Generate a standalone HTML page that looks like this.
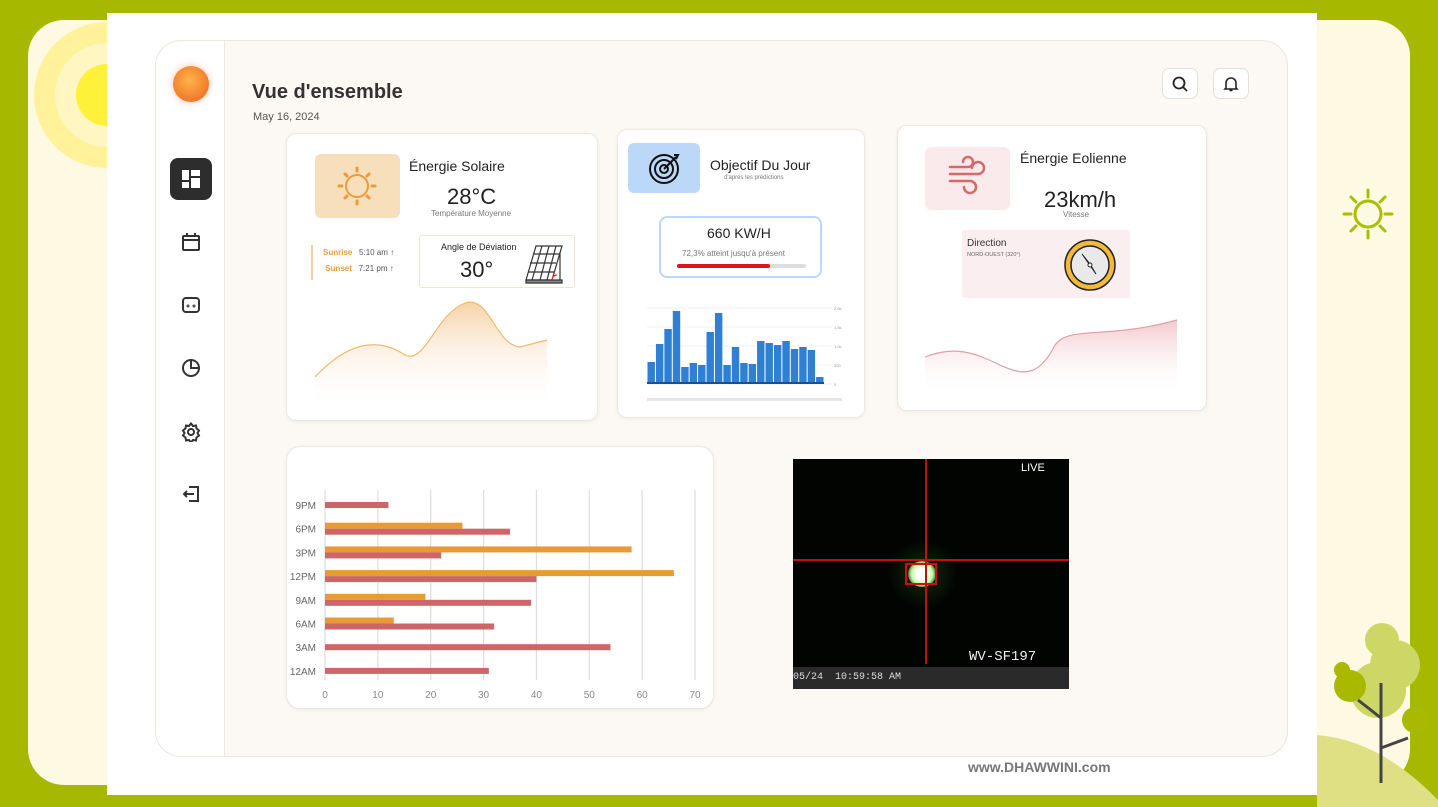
<!DOCTYPE html>
<html><head><meta charset="utf-8"><style>
*{box-sizing:border-box;margin:0;padding:0}
body{width:1438px;height:807px;background:#a6b800;position:relative;overflow:hidden;font-family:"Liberation Sans","DejaVu Sans",sans-serif;color:#222}
.abs{position:absolute}
.card{position:absolute;background:#fff;border:1px solid #eee8e0;border-radius:10px;box-shadow:0 1px 4px rgba(0,0,0,.06)}
.side-ic{position:absolute;left:170px;width:42px;height:42px;display:flex;align-items:center;justify-content:center}
</style></head><body>
<div class="abs" style="left:28px;top:20px;width:1382px;height:765px;background:#fef9e2;border-radius:36px"></div>
<svg class="abs" style="left:0;top:0" width="1438" height="807">
 <circle cx="107" cy="95" r="73" fill="#fff29a"/><circle cx="107" cy="95" r="52" fill="#fff6c2"/><circle cx="107" cy="95" r="31" fill="#fff03a"/>
 <path d="M1317 735 Q1380 740 1438 800 L1438 807 L1317 807Z" fill="#dfe083"/>
 <circle cx="1382" cy="640" r="17" fill="#cdd766"/><circle cx="1395" cy="665" r="25" fill="#cdd766"/><circle cx="1378" cy="690" r="28" fill="#cdd766"/>
 <circle cx="1350" cy="686" r="16" fill="#a9b900"/><circle cx="1342" cy="670" r="8" fill="#a9b900"/><circle cx="1415" cy="720" r="13" fill="#a9b900"/>
 <path d="M1381 683 V783 M1381 718 L1358 700 M1381 748 L1408 738" stroke="#444" stroke-width="3" fill="none"/>
 <g stroke="#a6c000" stroke-width="3" stroke-linecap="round" fill="none"><circle cx="1368" cy="214" r="13"/>
 <path d="M1368 190v7M1368 231v7M1344 214h7M1385 214h7M1351 197l5 5M1380 226l5 5M1385 197l-5 5M1356 226l-5 5"/></g>
</svg>
<div class="abs" style="left:107px;top:13px;width:1210px;height:782px;background:#fff"></div>
<div class="abs" style="left:155px;top:40px;width:1133px;height:717px;background:#fcf9f4;border:1px solid #ebe6de;border-radius:26px;overflow:hidden">
 <div class="abs" style="left:0;top:0;width:69px;height:717px;background:#fff;border-right:1px solid #ece8e2"></div>
</div>
<div class="abs" style="left:173px;top:66px;width:36px;height:36px;border-radius:50%;background:radial-gradient(circle at 45% 40%,#ffb24a,#f07a2a 70%,#d94a1c);box-shadow:0 0 8px rgba(240,100,60,.4)"></div>
<div class="side-ic" style="top:158px;background:#2d2d2d;border-radius:8px"><svg width="18" height="18"><rect x="0" y="0" width="7" height="10" fill="#fff"/><rect x="9" y="0" width="9" height="6" fill="#fff"/><rect x="9" y="8" width="9" height="10" fill="#fff"/><rect x="0" y="12" width="7" height="6" fill="#fff"/></svg></div>
<div class="side-ic" style="top:221px"><svg width="20" height="20" fill="none" stroke="#333" stroke-width="2"><rect x="2" y="4" width="16" height="14" rx="1"/><path d="M2 8h16M6 1v4M14 1v4"/></svg></div>
<div class="side-ic" style="top:284px"><svg width="20" height="20" fill="none" stroke="#333" stroke-width="2"><rect x="2" y="3" width="16" height="14" rx="3"/><circle cx="7" cy="11" r=".5"/><circle cx="13" cy="11" r=".5"/></svg></div>
<div class="side-ic" style="top:347px"><svg width="20" height="20" fill="none" stroke="#333" stroke-width="2"><circle cx="10" cy="10" r="8"/><path d="M10 2v8h8"/></svg></div>
<div class="side-ic" style="top:411px"><svg width="20" height="20" fill="none" stroke="#333" stroke-width="2"><circle cx="10" cy="10" r="3"/><path d="M10 1.5l2 2.5 3-.5.5 3 2.5 2-1.5 2.5 1.5 2.5-2.5 2-.5 3-3-.5-2 2.5-2-2.5-3 .5-.5-3-2.5-2 1.5-2.5-1.5-2.5 2.5-2 .5-3 3 .5z"/></svg></div>
<div class="side-ic" style="top:473px"><svg width="20" height="20" fill="none" stroke="#333" stroke-width="2"><path d="M8 3h9v14H8M3 10h10M6 7l-3 3 3 3"/></svg></div>

<div class="abs" style="left:252px;top:81px;font-size:20px;font-weight:bold;color:#333">Vue d'ensemble</div>
<div class="abs" style="left:253px;top:111px;font-size:11px;color:#555">May 16, 2024</div>
<div class="abs" style="left:1162px;top:68px;width:36px;height:31px;background:#fff;border:1px solid #e5e0d8;border-radius:7px;display:flex;align-items:center;justify-content:center"><svg width="16" height="16" fill="none" stroke="#222" stroke-width="1.8"><circle cx="7" cy="7" r="5.5"/><path d="M11 11l4 4"/></svg></div>
<div class="abs" style="left:1213px;top:68px;width:36px;height:31px;background:#fff;border:1px solid #e5e0d8;border-radius:7px;display:flex;align-items:center;justify-content:center"><svg width="16" height="16" fill="none" stroke="#222" stroke-width="1.6"><path d="M3 12V7a5 5 0 0110 0v5l1 1H2z M6.5 14.5h3"/></svg></div>

<div class="card" style="left:286px;top:133px;width:312px;height:288px"></div>
<div class="abs" style="left:315px;top:154px;width:85px;height:64px;background:#f8dfbc;border-radius:6px"><svg width="85" height="64" fill="none" stroke="#eb9b3a" stroke-width="2"><circle cx="42" cy="32" r="11"/><g stroke-linecap="round" stroke-width="3"><path d="M42 14v3M42 47v3M24 32h3M57 32h3M30 20l2 2M52 42l2 2M54 20l-2 2M32 42l-2 2"/></g></svg></div>
<div class="abs" style="left:409px;top:158px;font-size:14px">Énergie Solaire</div>
<div class="abs" style="left:447px;top:184px;font-size:22px">28°C</div>
<div class="abs" style="left:431px;top:209px;font-size:8px;color:#777">Température Moyenne</div>
<div class="abs" style="left:311px;top:245px;height:35px;border-left:2px solid #f4cf9c;padding-left:10px;font-size:8px;line-height:16px">
 <div><b style="color:#eb9b3a">Sunrise</b>&nbsp;&nbsp; <span style="color:#555">5:10 am ↑</span></div>
 <div>&nbsp;<b style="color:#eb9b3a">Sunset</b>&nbsp;&nbsp; <span style="color:#555">7:21 pm ↑</span></div></div>
<div class="abs" style="left:419px;top:235px;width:156px;height:53px;border:1px solid #f4e4cc;border-radius:3px">
 <div style="position:absolute;left:21px;top:6px;font-size:9px">Angle de Déviation</div>
 <div style="position:absolute;left:40px;top:21px;font-size:22px">30°</div>
 <svg style="position:absolute;left:102px;top:8px" width="44" height="40" fill="none" stroke="#333" stroke-width="1.2"><path d="M14 2h26l-10 34H4z M11 10h26M8 19h26M6 28h26M20 2L10 36M27 2l-9 34M34 2l-9 34"/><path d="M4 36h36v3H4z" fill="#888"/><path d="M38 8v28" /><path d="M30 36a5 5 0 015-5" stroke="#d33"/></svg></div>
<svg class="abs" style="left:315px;top:295px" width="235" height="115">
 <defs><linearGradient id="g1" x1="0" y1="0" x2="0" y2="1"><stop offset="0" stop-color="#f6d3a8"/><stop offset="1" stop-color="#fff" stop-opacity="0"/></linearGradient>
 <linearGradient id="g2" x1="0" y1="0" x2="0" y2="1"><stop offset="0" stop-color="#f2c8cd"/><stop offset="1" stop-color="#fff" stop-opacity="0"/></linearGradient></defs>
 <path d="M0 82 C30 50 60 40 90 60 C110 70 120 20 150 8 C175 0 180 50 205 52 L232 45 L232 115 L0 115Z" fill="url(#g1)"/>
 <path d="M0 82 C30 50 60 40 90 60 C110 70 120 20 150 8 C175 0 180 50 205 52 L232 45" fill="none" stroke="#f2b96e" stroke-width="1.2"/>
</svg>

<div class="card" style="left:617px;top:129px;width:248px;height:289px"></div>
<div class="abs" style="left:628px;top:143px;width:72px;height:50px;background:#bcd8f8;border-radius:6px"><svg width="72" height="50" fill="none" stroke="#111" stroke-width="2"><circle cx="36" cy="26" r="14"/><circle cx="36" cy="26" r="9"/><circle cx="36" cy="26" r="4"/><path d="M36 26l12-12M46 12l4 0-2 4"/></svg></div>
<div class="abs" style="left:710px;top:157px;font-size:14px">Objectif Du Jour</div>
<div class="abs" style="left:724px;top:175px;font-size:6px;color:#777">d'aprés les prédictions</div>
<div class="abs" style="left:659px;top:216px;width:163px;height:62px;border:2px solid #bcd8f8;border-radius:8px">
 <div style="position:absolute;left:46px;top:7px;font-size:14px">660 KW/H</div>
 <div style="position:absolute;left:21px;top:31px;font-size:8px;color:#777">72,3% atteint jusqu'à présent</div>
 <div style="position:absolute;left:16px;top:46px;width:129px;height:4px;background:#ddd;border-radius:2px"><div style="width:72.3%;height:4px;background:#e0121b;border-radius:2px"></div></div></div>
<svg class="abs" id="vbar" style="left:640px;top:290px" width="210" height="115"></svg>

<div class="card" style="left:897px;top:125px;width:310px;height:286px"></div>
<div class="abs" style="left:925px;top:147px;width:85px;height:63px;background:#fbeaec;border-radius:6px"><svg width="85" height="63" fill="none" stroke="#d46a6a" stroke-width="2.5" stroke-linecap="round"><path d="M25 20h18a5 5 0 10-5-5M25 27h28a6 6 0 10-6-6M25 34h20a6 6 0 11-6 6"/></svg></div>
<div class="abs" style="left:1020px;top:150px;font-size:14px">Énergie Eolienne</div>
<div class="abs" style="left:1044px;top:187px;font-size:22px">23km/h</div>
<div class="abs" style="left:1063px;top:210px;font-size:8px;color:#777">Vitesse</div>
<div class="abs" style="left:962px;top:230px;width:168px;height:68px;background:#fbeef1;border-radius:2px">
 <div style="position:absolute;left:5px;top:8px;font-size:10px;color:#333">Direction</div>
 <div style="position:absolute;left:5px;top:22px;font-size:5.5px;color:#666">NORD-OUEST (320°)</div>
 <svg style="position:absolute;left:100px;top:7px" width="56" height="56"><circle cx="28" cy="28" r="25" fill="#f3b93a" stroke="#222" stroke-width="1.5"/><circle cx="28" cy="28" r="19" fill="#e9e9e9" stroke="#222" stroke-width="1.5"/><path d="M20 17l14 20-6-10z" fill="#555" stroke="#222"/><circle cx="28" cy="28" r="2" fill="#fff" stroke="#222"/></svg></div>
<svg class="abs" style="left:925px;top:315px" width="255" height="80">
 <path d="M0 42 C30 30 50 38 75 50 C100 62 115 60 130 30 C145 10 180 25 252 5 L252 80 L0 80Z" fill="url(#g2)"/>
 <path d="M0 42 C30 30 50 38 75 50 C100 62 115 60 130 30 C145 10 180 25 252 5" fill="none" stroke="#e0a0a8" stroke-width="1.2"/>
</svg>

<div class="card" style="left:286px;top:446px;width:428px;height:263px;border-radius:14px"></div>
<svg class="abs" id="hbar" style="left:286px;top:446px" width="428" height="263"></svg>

<div class="abs" style="left:793px;top:459px;width:276px;height:230px;background:#020402;overflow:hidden">
 <div style="position:absolute;left:95px;top:80px;width:70px;height:70px;border-radius:50%;background:radial-gradient(circle,rgba(60,140,40,.3),rgba(0,0,0,0) 70%)"></div>
 <div style="position:absolute;left:115px;top:102px;width:28px;height:26px;border-radius:50%;background:radial-gradient(circle,#fff 30%,#bfffa0 55%,rgba(60,160,40,0) 85%)"></div>
 <div style="position:absolute;left:132px;top:0;width:2px;height:205px;background:#c01010"></div>
 <div style="position:absolute;left:0;top:100px;width:276px;height:2px;background:#c01010"></div>
 <div style="position:absolute;left:112px;top:104px;width:32px;height:22px;border:2px solid #d01010"></div>
 <div style="position:absolute;left:228px;top:3px;color:#fff;font-size:11px">LIVE</div>
 <div style="position:absolute;left:176px;top:190px;color:#eee;font-size:14px;font-family:'Liberation Mono',monospace">WV-SF197</div>
 <div style="position:absolute;left:0;top:208px;width:276px;height:22px;background:#2a2a2a;color:#ddd;font-size:10px;font-family:'Liberation Mono',monospace;padding:5px 0 0 0">05/24 &nbsp;10:59:58 AM</div>
</div>
<div class="abs" style="left:968px;top:759px;font-size:14px;font-weight:bold;color:#777">www.DHAWWINI.com</div>

<script>
const ns="http://www.w3.org/2000/svg";
function mk(p,t,a){const e=document.createElementNS(ns,t);for(const k in a)e.setAttribute(k,a[k]);p.appendChild(e);return e;}
const hourCats=["9PM","6PM","3PM","12PM","9AM","6AM","3AM","12AM"];
const orangeVals=[0,26,58,66,19,13,0,0];
const redVals=[12,35,22,40,39,32,54,31];
const xTicks=[0,10,20,30,40,50,60,70];
const dayVals=[22,40,55,73,17,21,19,52,71,19,37,21,20,43,41,39,43,35,37,34,7];

(function(){
 const s=document.getElementById('hbar');
 const x=v=>39+v*(370/70), y=i=>59+i*23.7;
 xTicks.forEach(t=>{
  const l=mk(s,'line',{x1:x(t),x2:x(t),y1:44,y2:234,stroke:'#ddd','stroke-width':1.2});
  
  
  const tx=mk(s,'text',{x:x(t),y:252,'text-anchor':'middle','font-size':10,fill:'#888'});tx.textContent=t;
  
  
 });
 hourCats.forEach((c,i)=>{
  const tx=mk(s,'text',{x:30,y:y(i)+4,'text-anchor':'end','font-size':10,fill:'#666'});tx.textContent=c;
  
  
  if(orangeVals[i]>0){const b=mk(s,'rect',{x:x(0),y:y(i)-6,width:x(orangeVals[i])-x(0),height:6,fill:'#e89a35'});
   
   }
  const r=mk(s,'rect',{x:x(0),y:orangeVals[i]>0?y(i):y(i)-3,width:x(redVals[i])-x(0),height:6,fill:'#cc6668'});
  
  
 });
})();
(function(){
 const s=document.getElementById('vbar');
 const base=94, h=v=>v, bw=177/dayVals.length;
 [0,19,38,57,76].forEach(t=>{mk(s,'line',{x1:7,x2:192,y1:base-h(t),y2:base-h(t),stroke:'#f1f1f1'});});
 ["0","500","1.0k","1.5k","2.0k"].forEach((t,i)=>{const tx=mk(s,'text',{x:194,y:base-i*19+2,'font-size':4,fill:'#999'});tx.textContent=t;});
 dayVals.forEach((v,i)=>{
  const b=mk(s,'rect',{x:7+i*bw+.5,y:base-h(v),width:bw-1,height:h(v),fill:'#2f7fd3'});
  
  
 });
 mk(s,'rect',{x:7,y:base-2,width:177,height:2,fill:'#1d4f8a'});
 mk(s,'rect',{x:7,y:108,width:195,height:3,fill:'#e6e6e6'});
})();
</script>
</body></html>
